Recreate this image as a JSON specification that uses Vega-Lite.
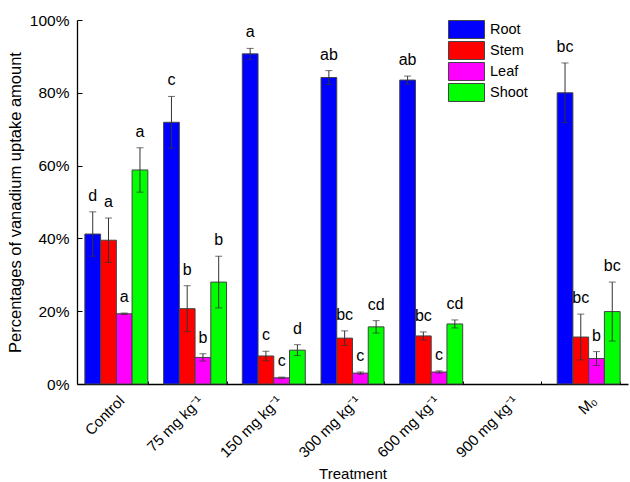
{
  "$schema": "https://vega.github.io/schema/vega-lite/v6.json",
  "width": 551,
  "height": 364,
  "autosize": {"type": "none"},
  "padding": {"left": 77, "top": 20, "right": 2, "bottom": 98},
  "background": "white",
  "config": {
    "font": "Liberation Sans",
    "view": {"stroke": null},
    "axis": {"domainColor": "#000000", "domainWidth": 1.3, "tickColor": "#000000", "tickWidth": 1, "labelColor": "#000000", "titleColor": "#000000", "labelFont": "Liberation Sans", "titleFont": "Liberation Sans", "titleFontWeight": "normal", "labelFontSize": 15, "titleFontSize": 15, "grid": false}
  },
  "data": {
    "values": [
      {"treatment": "Control", "organ": "Root", "value": 41.2, "lo": 35.1, "hi": 47.3, "letter": "d"},
      {"treatment": "Control", "organ": "Stem", "value": 39.5, "lo": 33.4, "hi": 45.6, "letter": "a"},
      {"treatment": "Control", "organ": "Leaf", "value": 19.3, "lo": 19.1, "hi": 19.5, "letter": "a"},
      {"treatment": "Control", "organ": "Shoot", "value": 58.8, "lo": 52.7, "hi": 64.9, "letter": "a"},
      {"treatment": "75 mg kg⁻¹", "organ": "Root", "value": 71.9, "lo": 64.8, "hi": 79.0, "letter": "c"},
      {"treatment": "75 mg kg⁻¹", "organ": "Stem", "value": 20.7, "lo": 14.4, "hi": 27.0, "letter": "b"},
      {"treatment": "75 mg kg⁻¹", "organ": "Leaf", "value": 7.3, "lo": 6.3, "hi": 8.3, "letter": "b"},
      {"treatment": "75 mg kg⁻¹", "organ": "Shoot", "value": 28.0, "lo": 20.9, "hi": 35.1, "letter": "b"},
      {"treatment": "150 mg kg⁻¹", "organ": "Root", "value": 90.7, "lo": 89.2, "hi": 92.2, "letter": "a"},
      {"treatment": "150 mg kg⁻¹", "organ": "Stem", "value": 7.7, "lo": 6.4, "hi": 9.0, "letter": "c"},
      {"treatment": "150 mg kg⁻¹", "organ": "Leaf", "value": 1.7, "lo": 1.5, "hi": 1.9, "letter": "c"},
      {"treatment": "150 mg kg⁻¹", "organ": "Shoot", "value": 9.3, "lo": 7.8, "hi": 10.8, "letter": "d"},
      {"treatment": "300 mg kg⁻¹", "organ": "Root", "value": 84.2, "lo": 82.3, "hi": 86.1, "letter": "ab"},
      {"treatment": "300 mg kg⁻¹", "organ": "Stem", "value": 12.6, "lo": 10.6, "hi": 14.6, "letter": "bc"},
      {"treatment": "300 mg kg⁻¹", "organ": "Leaf", "value": 3.0, "lo": 2.7, "hi": 3.3, "letter": "c"},
      {"treatment": "300 mg kg⁻¹", "organ": "Shoot", "value": 15.7, "lo": 14.0, "hi": 17.4, "letter": "cd"},
      {"treatment": "600 mg kg⁻¹", "organ": "Root", "value": 83.5, "lo": 82.4, "hi": 84.6, "letter": "ab"},
      {"treatment": "600 mg kg⁻¹", "organ": "Stem", "value": 13.2, "lo": 12.1, "hi": 14.3, "letter": "bc"},
      {"treatment": "600 mg kg⁻¹", "organ": "Leaf", "value": 3.3, "lo": 3.0, "hi": 3.6, "letter": "c"},
      {"treatment": "600 mg kg⁻¹", "organ": "Shoot", "value": 16.5, "lo": 15.4, "hi": 17.6, "letter": "cd"},
      {"treatment": "M₀", "organ": "Root", "value": 80.0, "lo": 71.8, "hi": 88.2, "letter": "bc"},
      {"treatment": "M₀", "organ": "Stem", "value": 12.9, "lo": 6.6, "hi": 19.2, "letter": "bc"},
      {"treatment": "M₀", "organ": "Leaf", "value": 7.0, "lo": 5.1, "hi": 8.9, "letter": "b"},
      {"treatment": "M₀", "organ": "Shoot", "value": 19.9, "lo": 11.8, "hi": 28.0, "letter": "bc"}
    ]
  },
  "encoding": {
    "x": {
      "field": "treatment",
      "type": "nominal",
      "sort": null,
      "scale": {"domain": ["Control", "75 mg kg⁻¹", "150 mg kg⁻¹", "300 mg kg⁻¹", "600 mg kg⁻¹", "900 mg kg⁻¹", "M₀"], "paddingInner": 0.2, "paddingOuter": 0.1},
      "axis": {"title": "Treatment", "labelAngle": -45, "tickBand": "extent", "tickSize": -3, "labelPadding": 12, "titleY": 82, "titleBaseline": "top"}
    },
    "xOffset": {"field": "organ", "type": "nominal", "sort": ["Root", "Stem", "Leaf", "Shoot"], "scale": {"paddingInner": 0, "paddingOuter": 0}}
  },
  "layer": [
    {
      "mark": {"type": "bar", "stroke": "#444444", "strokeWidth": 1},
      "encoding": {
        "y": {
          "field": "value",
          "type": "quantitative",
          "scale": {"domain": [0, 100], "nice": false},
          "axis": {
            "title": "Percentages of vanadium uptake amount",
            "titleFontSize": 16.5,
            "labelFontSize": 15.5,
            "values": [0, 10, 20, 30, 40, 50, 60, 70, 80, 90, 100],
            "labelExpr": "datum.value % 20 === 0 ? datum.value + '%' : ''",
            "tickSize": {"condition": {"test": "datum.value % 20 === 0", "value": -5}, "value": -3},
            "labelPadding": 13,
            "titlePadding": 6
          }
        },
        "color": {
          "field": "organ",
          "type": "nominal",
          "sort": ["Root", "Stem", "Leaf", "Shoot"],
          "scale": {"domain": ["Root", "Stem", "Leaf", "Shoot"], "range": ["#0000ff", "#ff0000", "#ff00ff", "#00ff00"]},
          "legend": {
            "title": null,
            "orient": "none",
            "legendX": 371,
            "legendY": 0,
            "padding": 0,
            "symbolType": "M-1,-1H3V1H-1Z",
            "symbolSize": 324,
            "symbolStrokeColor": "#444444",
            "symbolStrokeWidth": 1,
            "symbolOpacity": 1,
            "labelFontSize": 14.5,
            "labelFont": "Liberation Sans",
            "labelColor": "#000000",
            "labelOffset": 23,
            "rowPadding": -3
          }
        }
      }
    },
    {
      "mark": {"type": "rule", "color": "#333333", "strokeWidth": 1},
      "encoding": {
        "y": {"field": "lo", "type": "quantitative"},
        "y2": {"field": "hi"}
      }
    },
    {
      "mark": {"type": "tick", "color": "#333333", "thickness": 1, "size": 7, "orient": "horizontal"},
      "encoding": {"y": {"field": "lo", "type": "quantitative"}}
    },
    {
      "mark": {"type": "tick", "color": "#333333", "thickness": 1, "size": 7, "orient": "horizontal"},
      "encoding": {"y": {"field": "hi", "type": "quantitative"}}
    },
    {
      "mark": {"type": "text", "fontSize": 16, "font": "Liberation Sans", "color": "#000000", "dy": -11, "baseline": "alphabetic"},
      "encoding": {
        "y": {"field": "hi", "type": "quantitative"},
        "text": {"field": "letter"}
      }
    }
  ]
}
